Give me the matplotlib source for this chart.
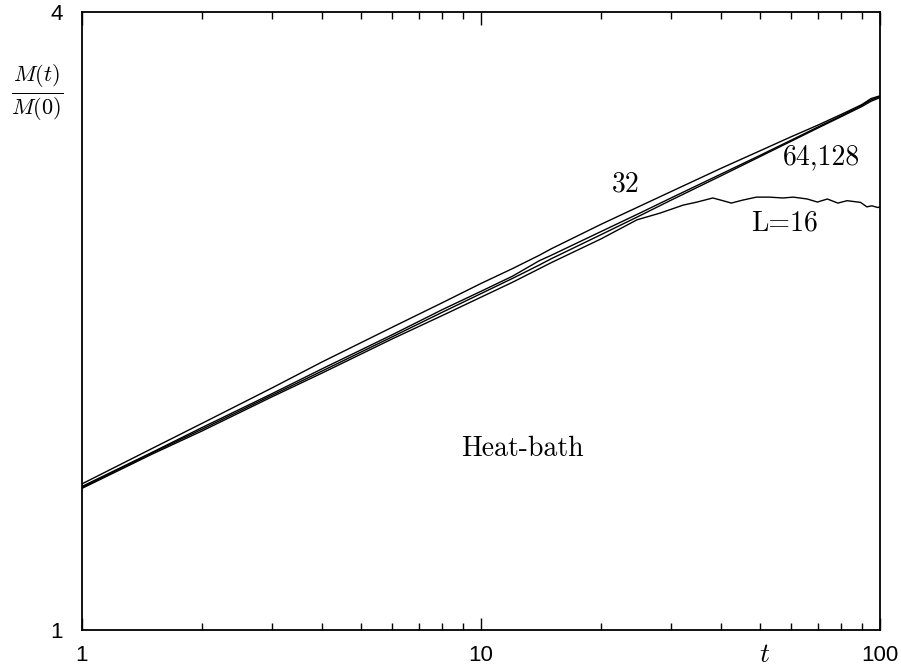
import matplotlib
matplotlib.use('Agg')
import matplotlib.pyplot as plt
from matplotlib.ticker import FixedLocator, FixedFormatter, NullLocator, NullFormatter

plt.rcParams['mathtext.fontset'] = 'cm'
plt.rcParams['font.family'] = ['Liberation Sans', 'DejaVu Sans']

# values (log-log axes)
t_main = [1, 1.5, 2, 3, 4, 6, 8, 10, 12, 14, 15, 20, 25, 30, 40, 50, 60, 70, 80, 90, 95, 100]
m_32 = [1.388, 1.503, 1.590, 1.722, 1.825, 1.973, 2.084, 2.176, 2.250, 2.318, 2.352,
        2.485, 2.588, 2.675, 2.818, 2.930, 3.025, 3.105, 3.180, 3.250, 3.295, 3.315]
m_64 = [1.380, 1.490, 1.575, 1.700, 1.797, 1.940, 2.052, 2.138, 2.212, 2.290, 2.318,
        2.445, 2.548, 2.637, 2.782, 2.900, 3.002, 3.092, 3.170, 3.245, 3.285, 3.310]
m_128 = [1.377, 1.488, 1.569, 1.694, 1.788, 1.931, 2.040, 2.127, 2.201, 2.268, 2.300,
         2.428, 2.533, 2.624, 2.771, 2.892, 2.995, 3.085, 3.164, 3.236, 3.275, 3.302]

t_16 = [1, 1.5, 2, 3, 4, 6, 8, 10, 12, 15, 20, 24.6, 28.1, 32.1, 34.8, 38.1, 40.4, 42.4,
        45.2, 49.0, 52.8, 57.1, 60.6, 65.7, 69.7, 73.8, 78.4, 82.7, 89.4, 92.7, 95.4, 98.8, 100]
m_16 = [1.374, 1.484, 1.563, 1.688, 1.780, 1.922, 2.025, 2.110, 2.182, 2.280, 2.405, 2.510,
        2.548, 2.594, 2.612, 2.636, 2.620, 2.606, 2.623, 2.641, 2.641, 2.636, 2.641, 2.630,
        2.612, 2.630, 2.606, 2.620, 2.610, 2.584, 2.590, 2.580, 2.585]

fig = plt.figure(figsize=(9.01, 6.72), dpi=100)
ax = fig.add_axes([0.091, 0.0625, 0.8857, 0.9195])

for m in (m_32, m_64, m_128):
    ax.plot(t_main, m, color='black', lw=1.0)
ax.plot(t_16, m_16, color='black', lw=1.0)

ax.set_xscale('log')
ax.set_yscale('log')
ax.set_xlim(1, 100)
ax.set_ylim(1, 4)

ax.xaxis.set_major_locator(FixedLocator([1, 10, 100]))
ax.xaxis.set_major_formatter(FixedFormatter(['1', '10', '100']))
ax.xaxis.set_minor_locator(FixedLocator([2, 3, 4, 5, 6, 7, 8, 9, 20, 30, 40, 50, 60, 70, 80, 90]))
ax.xaxis.set_minor_formatter(NullFormatter())
ax.yaxis.set_major_locator(FixedLocator([1, 4]))
ax.yaxis.set_major_formatter(FixedFormatter(['1', '4']))
ax.yaxis.set_minor_locator(NullLocator())

ax.tick_params(axis='x', which='major', direction='in', top=True, length=9, width=1,
               labelsize=16, pad=11)
ax.tick_params(axis='x', which='minor', direction='in', top=True, length=5, width=1)
ax.tick_params(axis='y', which='major', length=0, labelsize=16, pad=14)
for s in ax.spines.values():
    s.set_linewidth(1.3)

ax.text(23, 2.72, '32', family='cmr10', fontsize=20, ha='center', va='center')
ax.text(71.5, 2.89, '64,128', family='cmr10', fontsize=20, ha='center', va='center')
ax.text(57.8, 2.49, 'L=16', family='cmr10', fontsize=20, ha='center', va='center')
ax.text(12.7, 1.50, 'Heat-bath', family='cmr10', fontsize=20, ha='center', va='center')

fig.text(0.041, 0.863, r'$\frac{M(t)}{M(0)}$', fontsize=23, ha='center', va='center')
fig.text(0.849, 0.025, r'$t$', fontsize=20, ha='center', va='center')

fig.savefig('out.png', dpi=100)
